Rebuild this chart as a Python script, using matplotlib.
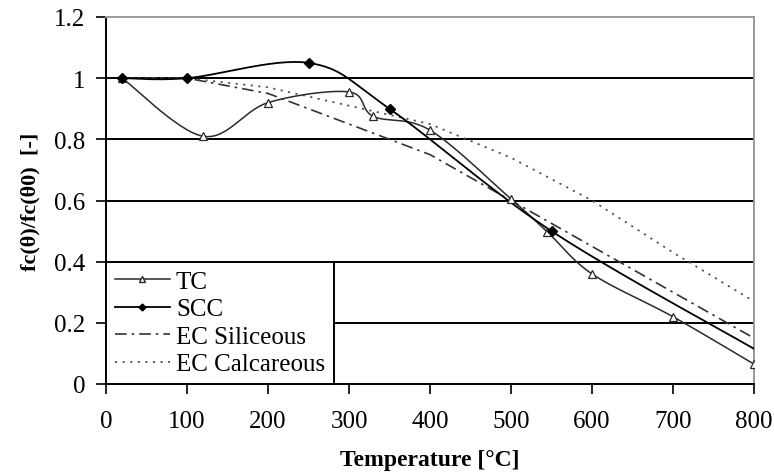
import numpy as np
import matplotlib
matplotlib.use("Agg")
import matplotlib.pyplot as plt

# Temperature (°C) and relative compressive strength fc(θ)/fc(θ0)
tc_temp = [20, 120, 200, 300, 330, 400, 500, 545, 600, 700, 800]
tc_ratio = [1.0, 0.81, 0.92, 0.955, 0.875, 0.83, 0.605, 0.497, 0.36, 0.22, 0.065]

scc_temp = [20, 100, 250, 350, 550, 800]
scc_ratio = [1.0, 1.0, 1.05, 0.9, 0.5, 0.115]

ec_temp = [20, 100, 200, 300, 400, 500, 600, 700, 800]
ec_siliceous = [1.0, 1.0, 0.95, 0.85, 0.75, 0.60, 0.45, 0.30, 0.15]
ec_calcareous = [1.0, 1.0, 0.97, 0.91, 0.85, 0.74, 0.60, 0.43, 0.27]

x_ticks = [0, 100, 200, 300, 400, 500, 600, 700, 800]
y_ticks = [0, 0.2, 0.4, 0.6, 0.8, 1.0, 1.2]
y_tick_labels = ["0", "0.2", "0.4", "0.6", "0.8", "1", "1.2"]


def smooth(xs, ys, n=30):
    """Parametric Catmull-Rom curve through the given points."""
    p = np.column_stack([xs, ys]).astype(float)
    p = np.vstack([p[0], p, p[-1]])
    out = []
    t = np.linspace(0, 1, n, endpoint=False)[:, None]
    for i in range(1, len(p) - 2):
        p0, p1, p2, p3 = p[i - 1], p[i], p[i + 1], p[i + 2]
        seg = 0.5 * ((2 * p1) + (-p0 + p2) * t
                     + (2 * p0 - 5 * p1 + 4 * p2 - p3) * t ** 2
                     + (-p0 + 3 * p1 - 3 * p2 + p3) * t ** 3)
        out.append(seg)
    out.append(p[-2][None, :])
    c = np.vstack(out)
    return c[:, 0], c[:, 1]


plt.rcParams["font.family"] = ["Liberation Serif", "DejaVu Serif"]

fig = plt.figure(figsize=(7.74, 4.77), dpi=100)
ax = fig.add_axes([106 / 774, 1 - 385 / 477, (754 - 106) / 774, (385 - 18) / 477])

# horizontal gridlines
for yv in y_ticks[1:-1]:
    ax.axhline(yv, color="black", lw=1.4, zorder=1)

ink = "#2a2a2a"
sx, sy = smooth(tc_temp, tc_ratio)
ax.plot(sx, sy, color=ink, lw=1.1, zorder=3)
ax.plot(tc_temp, tc_ratio, ls="none", marker="^", ms=6, mfc="white",
        mec=ink, mew=0.9, zorder=4)
ax.plot([], [], color=ink, lw=1.1, marker="^", ms=4.5, mfc="white",
        mec=ink, label="TC")

sx, sy = smooth(scc_temp, scc_ratio)
ax.plot(sx, sy, color="black", lw=1.3, zorder=3)
ax.plot(scc_temp[:-1], scc_ratio[:-1], ls="none", marker="D", ms=5,
        color="black", zorder=4)
ax.plot([], [], color="black", lw=1.3, marker="D", ms=3.5, label="SCC")

ax.plot(ec_temp, ec_siliceous, color="#333333", lw=1.2,
        ls=(0, (7, 3, 1.5, 3)), label="EC Siliceous", zorder=2)
ax.plot(ec_temp, ec_calcareous, color="#555555", lw=1.3,
        ls=(0, (1.2, 3)), label="EC Calcareous", zorder=2)

ax.set_xlim(0, 800)
ax.set_ylim(0, 1.2)
ax.set_xticks(x_ticks)
ax.set_yticks(y_ticks)
ax.set_yticklabels(y_tick_labels)
ax.tick_params(axis="both", labelsize=18, direction="out", length=7,
               width=1.2, color="black")
ax.tick_params(axis="x", pad=12)
ax.tick_params(axis="y", pad=8)

for side in ("left", "bottom"):
    ax.spines[side].set_color("black")
    ax.spines[side].set_linewidth(1.4)
for side in ("top", "right"):
    ax.spines[side].set_color("#9a9a9a")
    ax.spines[side].set_linewidth(1.4)

ax.set_xlabel("Temperature [°C]", fontsize=17, fontweight="bold", labelpad=12)
ax.set_ylabel("fc(θ)/fc(θ0)  [-]", fontsize=16, fontweight="bold", labelpad=10)

leg = ax.legend(loc="lower left", bbox_to_anchor=(0, 0), borderaxespad=0,
                fontsize=18, frameon=True, fancybox=False, framealpha=1,
                edgecolor="black", handlelength=2.2, handletextpad=0.25,
                labelspacing=0.2, borderpad=0.35)
leg.get_frame().set_linewidth(1.4)
leg.set_zorder(10)

fig.savefig("out.png", dpi=100)
